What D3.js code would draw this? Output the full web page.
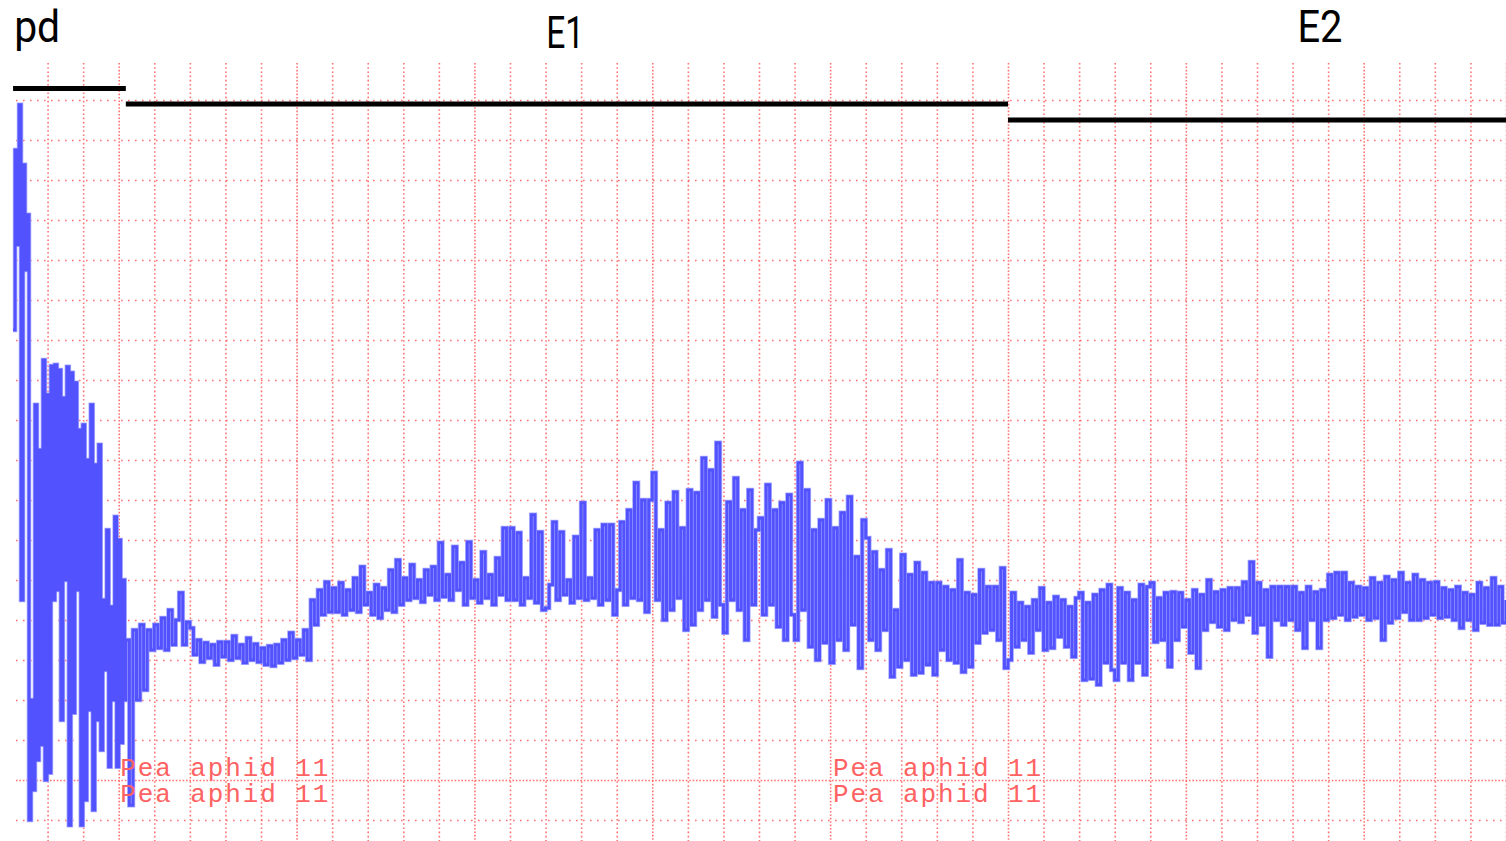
<!DOCTYPE html>
<html>
<head>
<meta charset="utf-8">
<script src="https://cdn.jsdelivr.net/npm/d3@7"></script>
<style>
  * { margin: 0; padding: 0; }
  body { background: #fff; overflow: hidden; }
  #chart { width: 1506px; height: 841px; }
  .grid .domain, .grid text { display: none; }
</style>
</head>
<body>
<div id="chart"></div>
<script>
// time in grid divisions, signal in arbitrary units (10 units = one horizontal division)
var pdStart = 0.03, pdStep = 0.056;
var pdSignal = [112.5, 157.5, 133.8, 168.8, 45, 153.8, 127.5, 141.3, -10, 20, -2.5, 93.8, 5, 82.5, 8.8, 105,
  0, 96.3, 1.8, 103.5, 45, 103.8, 47.5, 102.5, 15, 95.5, 50, 103.3, -11.3, 101.8, 16.8, 99.3, 47.5, 87.5,
  -11.3, 88.8, -5, 80, 17.5, 93.8, -7.5, 78.8, 15, 83.8, 7.5, 45, 27.5, 62.5, 3.3, 43.3, 20, 65.8, 3.3,
  60, 9.3, 50, 20];

var mainStart = 3.2, mainStep = 0.1;
var mainSignal = [
  35, -6.3, 37.5, 20, 38.8, 22.5, 37.5, 32.5,
  38.8, 33, 40.5, 32.5, 42.5, 33.8, 40, 46.8, 33.8, 39.5,
  38, 31.3, 35, 29.5, 34.3, 30.5, 33.8, 28.8, 34.5, 30.8,
  34.5, 30, 36, 30.5, 33.8, 29.3, 35.5, 30, 34, 29.5,
  33, 28.8, 33.5, 28.5, 33.8, 29.3, 35, 30, 36.8, 30.5,
  35, 31.3, 37.5, 30, 45, 38.8, 47.5, 41.3, 49.5, 42,
  48, 42, 49.3, 41.3, 47.5, 42.5, 50.5, 42, 53.3, 43.8,
  46.8, 41.3, 48.8, 40.5, 48, 42.5, 52.5, 42, 55, 43.8,
  50.5, 45, 53.8, 45.5, 50, 44.5, 52.5, 46.3, 53.3, 45,
  59.3, 45.8, 51.3, 45, 58.3, 47.5, 54.3, 43.8, 59.5, 45.5,
  50, 44.3, 57, 45.5, 51.3, 43.8, 55.5, 46.3, 63, 45,
  63, 45, 61.8, 43.8, 50.5, 45.5, 66.3, 44.3, 62, 42.5,
  43, 48.8, 64.5, 45, 62, 46.3, 50, 44.3, 60.8, 45.5,
  69.3, 45, 50.5, 45.5, 62.5, 43.8, 63.8, 45, 63.8, 41.3,
  47.5, 64.5, 43.8, 67.5, 45.5, 74.3, 45, 70, 42, 70,
  76.8, 45, 62.5, 40, 69.3, 42.5, 72, 45.5, 63, 37.5,
  72.5, 38.8, 71.8, 42.5, 80.5, 45, 77.5, 40.8, 84.3, 43.8,
  36.8, 69.5, 45, 75.5, 42.5, 67.5, 35, 72.5, 43.8, 62.5,
  65.5, 41.3, 73.8, 43.8, 67.5, 38.3, 69.3, 35, 71.3, 41.3,
  35, 79.3, 42.5, 72.5, 33.3, 62.5, 30, 65, 34.3, 70,
  29.3, 63, 35, 66.8, 32.5, 70.8, 38.8, 55.8, 28, 65,
  60.5, 35, 57, 32.5, 52.5, 37.5, 57.5, 25.8, 42.5, 28.3,
  56.3, 30, 51.3, 26.3, 54.3, 26.8, 51.8, 28.8, 49.3, 26.3,
  49.3, 32.5, 48.3, 30, 47.5, 29.3, 55, 27, 46.8, 28.3,
  46.3, 34.3, 52.5, 36.8, 48.3, 37.5, 48.3, 35, 53, 28,
  30, 46.8, 33.3, 44.3, 35, 43.3, 31.8, 45, 37.5, 48,
  32.5, 44.3, 33, 45.8, 35.8, 45, 33.3, 43.3, 30.8, 45.5,
  46.8, 25, 44.3, 25.3, 46.3, 23.8, 47.5, 29.3, 48.8, 27.5,
  25, 48, 29.3, 46.8, 25, 45, 29.3, 48.8, 26.3, 48.3,
  49.3, 34.5, 45.5, 35, 46.8, 28.3, 47, 35, 46.8, 38.3,
  45, 31.8, 47.5, 28, 46.3, 37.5, 50, 39.5, 47, 38.3,
  47.5, 37.5, 48, 40, 48, 39.5, 49.5, 41.3, 54.5, 36.8,
  49.3, 38.8, 47.5, 30.8, 48.3, 40, 48.3, 38.8, 48.3, 40,
  48.3, 37.5, 46.8, 33, 48.3, 40, 47, 33, 47.5, 40,
  51.3, 40.5, 51.8, 41.3, 51.8, 40, 49.3, 40.8, 48.3, 41.3,
  48, 40, 50.5, 40.5, 49.3, 35, 50.8, 39.3, 50, 40.5,
  51.8, 42, 49.3, 40, 51.3, 40, 50, 40.5, 49.3, 41.3,
  49.5, 40.5, 48, 40.8, 47.5, 40, 48.3, 38, 46.8, 40,
  46.3, 37.5, 49.3, 39.3, 48, 38.8, 50.5, 38.8, 48.3, 39.3,
  45];

// waveform phases (start / end in divisions) and where their label sits
var phaseNames = ["pd", "E1", "E2"];
var phaseStart = [0.03, 3.2, 28];
var phaseEnd = [3.2, 28, 42];
var phaseLabelT = [0.06, 15.55, 36.77];

var noteText = "Pea aphid 11";
var noteT = [3.04, 23.08];

var gridT = d3.range(1, 43);
var gridV = d3.range(-10, 171, 10);

var width = 1506, height = 841;

var x = d3.scaleLinear().domain([0, 42]).range([12, 1506]);
var y = d3.scaleLinear().domain([-10, 170]).range([820, 100]);

var svg = d3.select("#chart").append("svg")
    .attr("width", width)
    .attr("height", height);

// dotted grid
var gx = svg.append("g")
    .attr("class", "grid")
    .attr("transform", "translate(0,63)")
    .call(d3.axisTop(x).tickValues(gridT).tickSize(-(height - 63)));
gx.selectAll("line")
    .attr("stroke", "#ff5a5a")
    .attr("stroke-opacity", 0.85)
    .attr("stroke-width", 1.6)
    .attr("stroke-dasharray", d => d % 5 == 3 ? "1.6,1.8" : "1.6,2.6");

var gy = svg.append("g")
    .attr("class", "grid")
    .attr("transform", "translate(16,0)")
    .call(d3.axisLeft(y).tickValues(gridV).tickSize(-(width - 16)));
gy.selectAll("line")
    .attr("stroke", "#ff5a5a")
    .attr("stroke-opacity", 0.85)
    .attr("stroke-width", 1.6)
    .attr("stroke-dasharray", d => d == 0 ? "1.6,1.8" : "1.6,5.4");

// the recording
var points = [];
pdSignal.forEach(function (v, i) { points.push({ t: pdStart + i * pdStep, v: v }); });
mainSignal.forEach(function (v, i) { points.push({ t: mainStart + i * mainStep, v: v }); });

var line = d3.line()
    .x(d => x(d.t))
    .y(d => y(d.v))
    .curve(d3.curveStepAfter);

svg.append("path")
    .datum(points)
    .attr("d", line)
    .attr("fill", "none")
    .attr("stroke", "#aeb0ff")
    .attr("stroke-width", 4.6);

svg.append("path")
    .datum(points)
    .attr("d", line)
    .attr("fill", "none")
    .attr("stroke", "#5252ff")
    .attr("stroke-width", 3);

// annotation text from the recorder
noteT.forEach(function (t) {
    [776, 802].forEach(function (by) {
        svg.append("text")
            .attr("x", x(t))
            .attr("y", by)
            .attr("font-family", "Liberation Mono, monospace")
            .attr("font-size", 26)
            .attr("letter-spacing", 1.9)
            .attr("fill", "#ff6262")
            .text(noteText);
    });
});

// phase bars and labels
var barY = [88.5, 104, 120];
var labelY = [42, 48, 42];
var labelW = [46, 38, 45];
phaseNames.forEach(function (name, i) {
    svg.append("line")
        .attr("x1", x(phaseStart[i]))
        .attr("x2", x(phaseEnd[i]))
        .attr("y1", barY[i])
        .attr("y2", barY[i])
        .attr("stroke", "#000")
        .attr("stroke-width", 5);

    svg.append("text")
        .attr("x", x(phaseLabelT[i]))
        .attr("y", labelY[i])
        .attr("text-anchor", i == 0 ? "start" : "middle")
        .attr("font-family", "Roboto, sans-serif")
        .attr("font-size", 45)
        .attr("textLength", labelW[i])
        .attr("lengthAdjust", "spacingAndGlyphs")
        .text(name);
});
</script>
</body>
</html>
